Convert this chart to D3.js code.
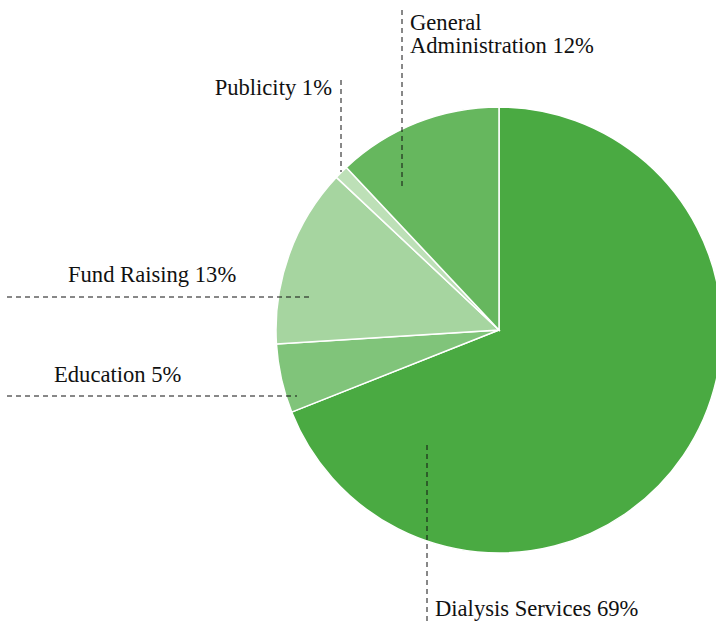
<!DOCTYPE html>
<html>
<head>
<meta charset="utf-8">
<script src="https://d3js.org/d3.v7.min.js"></script>
<style>
  body { margin:0; background:#fff; }
  svg { display:block; }
  text { font-family: "Liberation Serif", "DejaVu Serif", serif; font-size: 22.6px; fill: #111; }
</style>
</head>
<body>
<script>
const categories = ["Dialysis Services", "Education", "Fund Raising", "Publicity", "General Administration"];
const values = [69, 5, 13, 1, 12];
const colours = ["#4aaa42", "#80c47a", "#a6d5a0", "#bde0b7", "#66b75e"];

const width = 716, height = 622;
const cx = 499, cy = 330, radius = 223;

// leader lines and label placement, relative to pie centre
const layout = {
  "Dialysis Services":      { line: [[-72, 115], [-72, 292]], text: [[-64, 286]], anchor: "start" },
  "Education":              { line: [[-492, 66], [-202, 66]], text: [[-445, 52]], anchor: "start" },
  "Fund Raising":           { line: [[-492, -33], [-186, -33]], text: [[-431, -48]], anchor: "start" },
  "Publicity":              { line: [[-158, -250], [-158, -158]], text: [[-167, -235]], anchor: "end" },
  "General Administration": { line: [[-97, -320], [-97, -144]], text: [[-89, -300], [-89, -277]], anchor: "start", split: true }
};

const data = categories.map((c, i) => ({ name: c, value: values[i], colour: colours[i] }));

const svg = d3.select("body").append("svg")
  .attr("width", width)
  .attr("height", height);

const pie = d3.pie().sort(null).value(d => d.value);
const arc = d3.arc().innerRadius(0).outerRadius(radius);

const g = svg.append("g").attr("transform", `translate(${cx},${cy})`);

g.selectAll("path")
  .data(pie(data))
  .enter()
  .append("path")
  .attr("d", arc)
  .attr("fill", d => d.data.colour)
  .attr("stroke", "#fff")
  .attr("stroke-width", 1.5);

const labels = g.selectAll(".label")
  .data(data)
  .enter()
  .append("g")
  .attr("class", "label");

labels.append("line")
  .attr("x1", d => layout[d.name].line[0][0])
  .attr("y1", d => layout[d.name].line[0][1])
  .attr("x2", d => layout[d.name].line[1][0])
  .attr("y2", d => layout[d.name].line[1][1])
  .attr("stroke", "#111")
  .attr("stroke-width", 1)
  .attr("stroke-dasharray", "5,4");

labels.each(function(d) {
  const l = layout[d.name];
  const lines = l.split ? ["General", "Administration " + d.value + "%"] : [d.name + " " + d.value + "%"];
  lines.forEach((t, i) => {
    d3.select(this).append("text")
      .attr("x", l.text[i][0])
      .attr("y", l.text[i][1])
      .attr("text-anchor", l.anchor)
      .text(t);
  });
});
</script>
</body>
</html>
